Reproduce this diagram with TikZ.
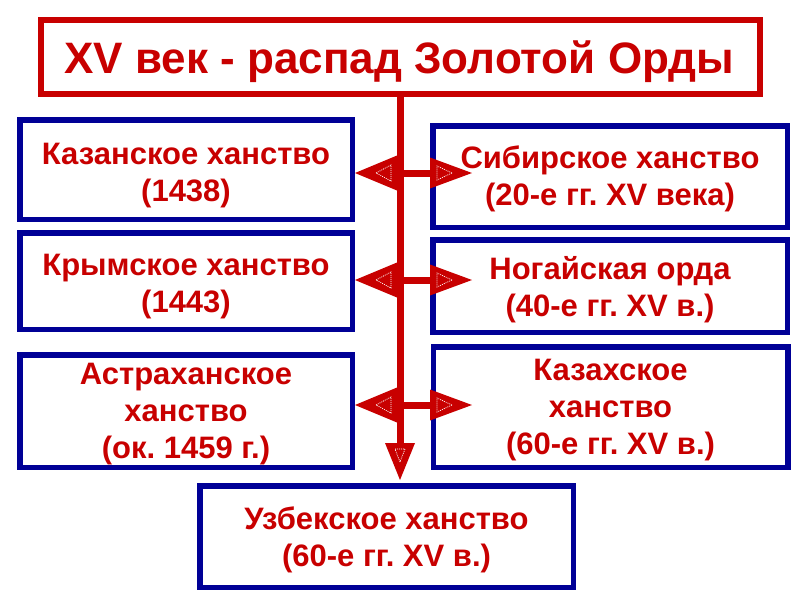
\documentclass[tikz,border=0pt]{standalone}
\usepackage{fontspec}
\setmainfont{Liberation Sans}
\usetikzlibrary{arrows.meta}
\definecolor{tred}{RGB}{200,0,0}
\definecolor{tblue}{RGB}{0,0,150}
\frenchspacing
\begin{document}
\begin{tikzpicture}[x=1pt,y=-1pt,
  bluebox/.style={draw=tblue, line width=5.5pt, fill=white, inner sep=0pt, minimum width=332.5pt},
  rbox/.style={bluebox, minimum width=354.5pt},
  boxtext/.style={text=tred, inner sep=0pt, align=center, font=\fontsize{31}{37}\selectfont\bfseries\frenchspacing},
  conn/.style={draw=tred, line width=7pt},
  inner/.style={draw=white, line width=0.7pt, dash pattern=on 1pt off 1pt}
]
\fill[white] (0,0) rectangle (800,600);
\useasboundingbox (0,0) rectangle (800,600);

% title
\node[draw=tred, line width=6pt, minimum width=719pt, minimum height=74pt, inner sep=0pt] (title) at (400.5,57) {};
\node[anchor=base, text=tred, font=\fontsize{44}{48}\selectfont\bfseries, inner sep=0pt] (titletext) at (399,73) {XV век - распад Золотой Орды};

% trunk and down arrow
\coordinate (top) at (400,94);
\coordinate (dn) at (400,480);
\draw[conn, -{Triangle[length=37pt,width=30pt,line width=0pt]}] (top) -- (dn);

% left boxes
\node[bluebox, minimum height=99.5pt] (kaz) at (186,169.5) {};
\node[boxtext] (kazt) at ([yshift=-6pt]kaz.center) {Казанское ханство\\(1438)};
\node[bluebox, minimum height=96.5pt] (krym) at (186,281) {};
\node[boxtext] (krymt) at ([yshift=-6pt]krym.center) {Крымское ханство\\(1443)};
\node[bluebox, minimum height=112.5pt] (astr) at (186,411) {};
\node[boxtext] (astrt) at ([yshift=-3pt]astr.center) {Астраханское\\ханство\\(ок. 1459 г.)};

% right boxes
\node[rbox, minimum height=101.5pt] (sib) at (610,176.5) {};
\node[boxtext] (sibt) at ([yshift=-2.5pt]sib.center) {Сибирское ханство\\(20-е гг. XV века)};
\node[rbox, minimum height=92.5pt] (nog) at (610,286) {};
\node[boxtext] (nogt) at ([yshift=-4pt]nog.center) {Ногайская орда\\(40-е гг. XV в.)};
\node[rbox, minimum height=120.5pt] (kzh) at (610.5,407) {};
\node[boxtext] (kzht) at ([yshift=-3pt]kzh.center) {Казахское\\ханство\\(60-е гг. XV в.)};

% bottom box
\node[bluebox, minimum width=373.5pt, minimum height=101.5pt] (uz) at (386.5,536.5) {};
\node[boxtext] (uzt) at ([yshift=-3.5pt]uz.center) {Узбекское ханство\\(60-е гг. XV в.)};

% horizontal double arrows
\coordinate (l1) at (355,173); \coordinate (r1) at (472,173);
\coordinate (l2) at (355,280); \coordinate (r2) at (472,280);
\coordinate (l3) at (355,405); \coordinate (r3) at (472,405);
\draw[conn, {Triangle[length=42pt,width=35pt,line width=0pt]}-{Triangle[length=42pt,width=31pt,line width=0pt]}] (l1) -- (r1);
\draw[conn, {Triangle[length=42pt,width=35pt,line width=0pt]}-{Triangle[length=42pt,width=31pt,line width=0pt]}] (l2) -- (r2);
\draw[conn, {Triangle[length=42pt,width=35pt,line width=0pt]}-{Triangle[length=42pt,width=31pt,line width=0pt]}] (l3) -- (r3);

% inner dotted triangles
\foreach \yy in {173,280,405}{
  \draw[inner] (376,\yy) -- (391,\yy-8) -- (391,\yy+8) -- cycle;
  \draw[inner] (452,\yy) -- (437,\yy-7) -- (437,\yy+7) -- cycle;
}
\draw[inner] (400,462) -- (395,449) -- (405,449) -- cycle;
\end{tikzpicture}
\end{document}
